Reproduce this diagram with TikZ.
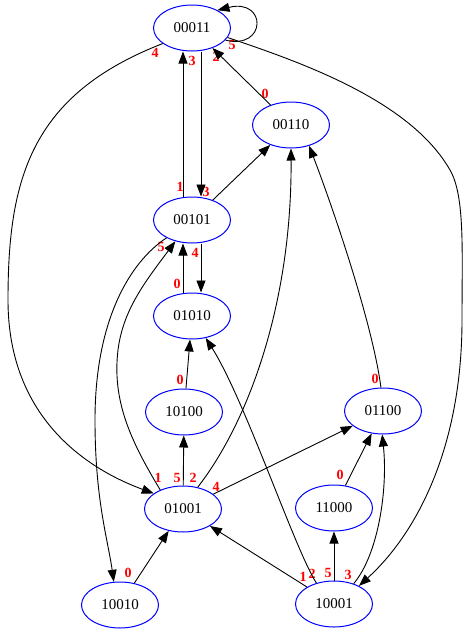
\documentclass[tikz,border=0pt]{standalone}
\usepackage{fontspec}
\setmainfont{Liberation Serif}
\usetikzlibrary{shapes.geometric,arrows.meta}
\begin{document}
\begin{tikzpicture}[x=1pt,y=-1pt,
  vtx/.style={ellipse,draw=blue,line width=1pt,minimum width=77pt,minimum height=46pt,inner sep=0pt,font=\fontsize{15}{17}\selectfont},
  lbl/.style={text=red,font=\fontsize{14}{16}\selectfont\bfseries,inner sep=0pt},
  arc/.style={draw=black,line width=0.9pt,-{Triangle[length=12pt,width=9pt]}}]
\useasboundingbox (0,0) rectangle (467,635);
% nodes
\node[vtx] (a00011) at (192,28) {00011};
\node[vtx] (a00110) at (291,125) {00110};
\node[vtx] (a00101) at (192,220) {00101};
\node[vtx] (a01010) at (192,316) {01010};
\node[vtx] (a10100) at (184,412) {10100};
\node[vtx] (a01100) at (383,411) {01100};
\node[vtx] (a01001) at (183,509) {01001};
\node[vtx] (a11000) at (334,508) {11000};
\node[vtx] (a10010) at (120,605) {10010};
\node[vtx] (a10001) at (334,604) {10001};
% labels
\node[lbl] (t1) at (155,53) {4};
\node[lbl] (t2) at (192,61) {3};
\node[lbl] (t3) at (232,45) {5};
\node[lbl] (t4) at (216,57) {2};
\node[lbl] (t5) at (265,94) {0};
\node[lbl] (t6) at (180,187) {1};
\node[lbl] (t7) at (206,192) {3};
\node[lbl] (t8) at (161,247) {5};
\node[lbl] (t9) at (195,253) {4};
\node[lbl] (t10) at (177,284) {0};
\node[lbl] (t11) at (180,380) {0};
\node[lbl] (t12) at (375,379) {0};
\node[lbl] (t13) at (340,475) {0};
\node[lbl] (t14) at (128,573) {0};
\node[lbl] (t15) at (158,478) {1};
\node[lbl] (t16) at (177,478) {5};
\node[lbl] (t17) at (193,478) {2};
\node[lbl] (t18) at (216,487) {4};
\node[lbl] (t19) at (303,577) {1};
\node[lbl] (t20) at (312,574) {2};
\node[lbl] (t21) at (328,573) {5};
\node[lbl] (t22) at (348,575) {3};
% edges
\draw[arc] (a00011.-20) .. controls (267,50) and (267,-2) .. (a00011.35);
\draw[arc] (a00011.-152) .. controls (30,95) and (8,180) .. (8,300) .. controls (8,420) and (90,470) .. (a01001.152);
\draw[arc] ([xshift=-9pt]a00101.north) -- ([xshift=-9pt]a00011.south);
\draw[arc] ([xshift=9pt]a00011.south) -- ([xshift=9pt]a00101.north);
\draw[arc] (a00110) -- (a00011);
\draw[arc] (a00011.-15) .. controls (300,62) and (410,100) .. (450,170) .. controls (465,196) and (462,250) .. (462,320) .. controls (462,450) and (415,535) .. (a10001.36);
\draw[arc] (a00101) -- (a00110);
\draw[arc] ([xshift=9pt]a00101.south) -- ([xshift=9pt]a01010.north);
\draw[arc] ([xshift=-9pt]a01010.north) -- ([xshift=-9pt]a00101.south);
\draw[arc] (a00101.-145) .. controls (130,262) and (95,320) .. (95,420) .. controls (95,500) and (108,540) .. (a10010.105);
\draw[arc] (a01001.140) .. controls (130,440) and (112,400) .. (118,350) .. controls (123,310) and (145,282) .. (a00101.-128);
\draw[arc] (a10100) -- (a01010);
\draw[arc] (a01001) -- (a10100);
\draw[arc] (a01001.56) .. controls (250,420) and (292,300) .. (a00110.-90);
\draw[arc] (a01001) -- (a01100);
\draw[arc] (a01100.95) .. controls (372,320) and (330,200) .. (a00110.-49);
\draw[arc] (a11000) -- (a01100);
\draw[arc] (a10010) -- (a01001);
\draw[arc] (a10001) -- (a01001);
\draw[arc] (a10001.130) .. controls (295,550) and (245,400) .. (a01010.-58);
\draw[arc] (a10001) -- (a11000);
\draw[arc] (a10001.46) .. controls (378,555) and (388,490) .. (a01100.-92);
\end{tikzpicture}
\end{document}
